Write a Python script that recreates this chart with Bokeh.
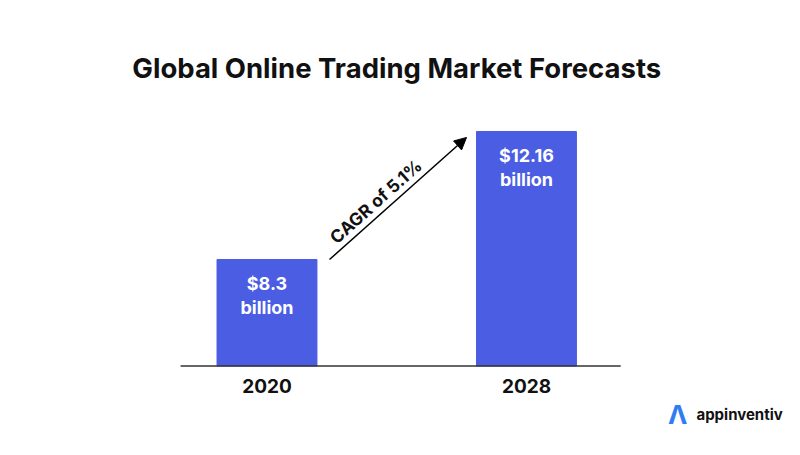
from bokeh.plotting import figure
from bokeh.models import Range1d, Label, Arrow, NormalHead
from bokeh.core.properties import value
from bokeh.embed import file_html
from bokeh.resources import INLINE
import math

# ---------------- data ----------------
years = ["2020", "2028"]
market_values = [8.3, 12.16]          # USD billion
value_labels = ["$8.3", "$12.16"]
unit_labels = ["billion", "billion"]
title_text = "Global Online Trading Market Forecasts"
cagr_text = "CAGR of 5.1%"
brand_text = "appinventiv"

# ---------------- layout / style ----------------
FONT = "Inter"
BAR_COLOR = "#4a5de3"
BASE = 5.09            # visual baseline of the (non-zero based) value axis
Y_START, Y_END = 2.39, 16.11
X_START, X_END = -1.027, 2.056
BAR_W = 0.385
PX_PER_X, PX_PER_Y = 259.5, 33.16

xs = list(range(len(years)))

p = figure(width=800, height=455, output_backend="svg", toolbar_location=None,
           x_range=Range1d(X_START, X_END), y_range=Range1d(Y_START, Y_END),
           x_axis_location=None, y_axis_location=None,
           min_border_left=0, min_border_right=0,
           min_border_top=0, min_border_bottom=0)
p.outline_line_color = None
p.grid.visible = False
p.background_fill_color = "white"
p.border_fill_color = "white"

# bars
p.vbar(x=xs, top=market_values, bottom=BASE, width=BAR_W, color=BAR_COLOR)

# baseline
p.segment(x0=[-0.333], y0=[BASE], x1=[1.363], y1=[BASE],
          line_color="#333333", line_width=1.5)

# year labels
p.text(x=xs, y=[BASE] * len(xs), text=years, y_offset=20,
       text_align="center", text_baseline="middle", text_color="#111111",
       text_font=value(FONT), text_font_style="bold", text_font_size="19px")

# value labels inside bars
p.text(x=xs, y=market_values, text=value_labels, y_offset=24,
       text_align="center", text_baseline="middle", text_color="white",
       text_font=value(FONT), text_font_style="bold", text_font_size="18px")
p.text(x=xs, y=market_values, text=unit_labels, y_offset=48,
       text_align="center", text_baseline="middle", text_color="white",
       text_font=value(FONT), text_font_style="bold", text_font_size="18px")

# CAGR arrow
x0, x1 = 0.241, 0.769
y0, y1 = market_values[0], market_values[1] - 0.18
p.add_layout(Arrow(x_start=x0, y_start=y0, x_end=x1, y_end=y1,
                   line_color="black", line_width=1.5,
                   end=NormalHead(size=12, fill_color="black", line_color="black")))
angle = math.atan2((y1 - y0) * PX_PER_Y, (x1 - x0) * PX_PER_X)
tx = 0.446
ty = y0 + (y1 - y0) * (tx - x0) / (x1 - x0)
p.add_layout(Label(x=tx, y=ty, text=cagr_text, angle=angle,
                   text_align="center", text_baseline="bottom", y_offset=3,
                   text_font=FONT, text_font_style="bold", text_font_size="17.5px",
                   text_color="#111111"))

# title
p.add_layout(Label(x=0.5, y=14.06, text=title_text, text_align="center",
                   text_baseline="middle", text_font=FONT, text_font_style="bold",
                   text_font_size="27.5px", text_color="#111111"))

# brand
p.add_layout(Label(x=1.583, y=3.62, text="Λ", text_align="center",
                   text_baseline="middle", text_font=FONT, text_font_style="bold",
                   text_font_size="26px", text_color="#2f7cf6"))
p.add_layout(Label(x=1.655, y=3.62, text=brand_text, text_align="left",
                   text_baseline="middle", text_font=FONT, text_font_style="bold",
                   text_font_size="15px", text_color="#111111"))

open("out.html", "w").write(file_html(p, INLINE))
